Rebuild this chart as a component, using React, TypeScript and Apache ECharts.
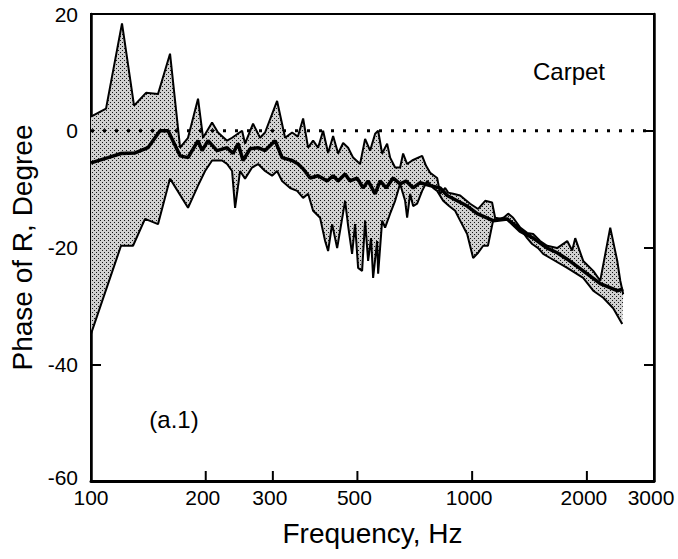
import React, { useEffect, useRef } from "react";
import * as echarts from "echarts";

// Frequency (Hz) tick labels on the log axis
const xTickValues = [100, 200, 300, 500, 1000, 2000, 3000];
const xInnerTicks = [200, 300, 500, 1000, 2000];
// Reference (dotted) line
const refFreq = [100, 3000];
const refPhase = [0, 0];

// First measured curve (upper envelope at low frequency)
const curveAFreq = [100, 109.5, 120.6, 129.7, 139.4, 149.9, 161.2, 171.3, 179.7, 190.9, 196.8, 207.8, 215.4, 227.5, 234.5, 249.1, 253.6, 266.2, 277.7, 286.2, 307.8, 323, 337, 349, 360.2, 371.2, 382.6, 394.3, 406.4, 418.9, 431.8, 445, 458.7, 472.7, 487.2, 508.2, 523.8, 539.9, 556.5, 566.7, 580.6, 598.3, 609.3, 627.9, 647.1, 659, 675.2, 695.9, 721.6, 739.3, 757, 776, 809.5, 824.3, 849.6, 865, 891.6, 930.2, 988, 1037, 1082, 1128, 1149, 1199, 1243, 1281, 1337, 1394, 1446, 1508, 1573, 1671, 1776, 1830, 1864, 1956, 2078, 2168, 2303, 2403, 2447, 2491];
const curveAPhase = [2.4, 3.8, 18.4, 4.3, 6.5, 6.3, 13.2, -2.9, -1.2, 5.5, -1.2, 1.4, -0.3, -1.7, -1.2, 0, -2.2, 1.2, -1.2, -0.3, 5.1, -1.2, -0.3, -1.0, 2.1, -2.9, -1.7, -2.9, 0, -3.8, -0.9, -3.9, -2.1, -2.9, -4.6, -5.7, -1.4, -3.4, -0.5, 0, -3.9, -2.2, -4.6, -6.3, -6.3, -3.9, -5.7, -5.1, -4.6, -4.3, -6.0, -7.2, -8.1, -10.8, -9.8, -10.6, -10.8, -11.1, -12.5, -13.4, -12.0, -12.3, -14.9, -15.1, -14.2, -14.9, -16.6, -17.5, -17.7, -18.9, -19.7, -20.1, -18.9, -20.5, -18.4, -22.3, -24.0, -25.7, -16.6, -22.3, -25.7, -28.0];

// Second measured curve (lower envelope at low frequency)
const curveBFreq = [100, 119.9, 128.9, 138.6, 149.9, 161.2, 179.7, 190.9, 199.2, 207.8, 220.7, 227.5, 234.5, 238.8, 246.1, 253.6, 264.6, 274.4, 286.2, 298.6, 307.8, 317.2, 333, 347.4, 360.2, 371.2, 382.6, 399.1, 411.4, 418.9, 429.2, 442.4, 464.2, 472.7, 484.2, 493, 502.1, 514.4, 523.8, 533.4, 543, 549.8, 563.3, 566.7, 580.6, 591, 609.3, 627.9, 647.1, 667, 675.2, 687.6, 700.1, 717.2, 739.3, 762, 790, 809.5, 839.4, 870, 902.5, 930.2, 970.3, 1006, 1037, 1069, 1100, 1135, 1206, 1258, 1313, 1353, 1394, 1437, 1490, 1536, 1602, 1776, 1956, 2078, 2208, 2345, 2476];
const curveBPhase = [-34.8, -19.7, -19.7, -15.1, -16.0, -8.2, -13.2, -9.4, -6.9, -5.1, -5.1, -5.7, -6.9, -13.2, -6.9, -8.2, -6.3, -5.7, -6.9, -7.7, -6.9, -8.6, -9.8, -10.3, -11.5, -10.8, -13.7, -14.9, -18.9, -20.6, -16.0, -20.1, -12.0, -16.3, -21.1, -16.0, -23.5, -24.0, -15.4, -22.3, -18.4, -25.2, -18.9, -24.5, -15.4, -16.6, -14.2, -12.0, -9.1, -12.0, -14.9, -10.8, -12.9, -12.5, -10.3, -8.6, -9.8, -10.3, -12.0, -12.9, -13.7, -15.4, -17.7, -21.8, -20.9, -19.7, -19.7, -15.4, -14.9, -15.4, -16.3, -17.2, -18.4, -19.4, -20.1, -21.1, -21.8, -23.5, -25.2, -27.4, -28.6, -30.4, -33.1];

// Mean curve (thick line)
const meanFreq = [100, 110.8, 119.9, 130.5, 141.1, 151.7, 159.3, 171.3, 179.7, 190.9, 195.6, 202.8, 214.1, 227.5, 235.9, 243.1, 250.6, 261.4, 274.4, 286.2, 304.1, 317.2, 337, 349.4, 360.2, 375.7, 394.3, 416.4, 431.8, 445, 464.2, 478, 499.1, 517.5, 533.4, 556.5, 573.5, 595, 620.4, 647.1, 671, 700.1, 730.4, 776, 824.3, 860, 913.4, 970.3, 1031, 1135, 1236, 1337, 1446, 1573, 1671, 1776, 1956, 2168, 2403, 2491];
const meanPhase = [-5.5, -4.6, -3.9, -3.8, -2.9, 0, 0, -4.3, -4.6, -1.7, -3.4, -1.7, -3.4, -2.9, -3.9, -2.2, -5.1, -3.1, -2.9, -3.4, -1.7, -4.6, -5.1, -5.7, -6.5, -8.1, -7.7, -8.6, -7.7, -8.6, -7.4, -8.6, -8.1, -9.8, -8.6, -10.8, -8.6, -9.8, -8.1, -9.1, -8.6, -9.8, -8.9, -9.4, -9.8, -11.1, -12.0, -12.9, -14.2, -15.4, -15.1, -17.2, -18.4, -20.1, -20.9, -22.0, -24.0, -26.2, -27.4, -27.1];

const FONT = '"Liberation Sans", Arial, Helvetica, sans-serif';

const zip = (xs: number[], ys: number[]) => xs.map((x, i) => [x, ys[i]]);

export default function App() {
  const ref = useRef<HTMLDivElement>(null);

  useEffect(() => {
    const el = ref.current!;
    const chart = echarts.init(el, null, { renderer: "svg" });

    const pat = document.createElement("canvas");
    pat.width = 4;
    pat.height = 4;
    const ctx = pat.getContext("2d")!;
    ctx.fillStyle = "#d0d0d0";
    ctx.fillRect(0, 0, 4, 4);
    ctx.fillStyle = "#151515";
    ctx.fillRect(0, 0, 1, 1);
    ctx.fillRect(2, 2, 1, 1);
    const stipple: any = { image: pat, repeat: "repeat", imageWidth: 4, imageHeight: 4 };

    chart.setOption({
      animation: false,
      backgroundColor: "#fff",
      grid: {
        left: 91,
        top: 14,
        width: 563,
        height: 467,
        show: true,
        borderColor: "#000",
        borderWidth: 2,
        backgroundColor: "transparent",
      },
      xAxis: {
        type: "log",
        logBase: 10,
        min: 100,
        max: 3000,
        axisLine: { show: true, onZero: false, lineStyle: { color: "#000", width: 3 } },
        axisTick: { show: false },
        minorTick: { show: false },
        axisLabel: { show: false },
        splitLine: { show: false },
        name: "Frequency, Hz",
        nameLocation: "middle",
        nameGap: 38,
        nameTextStyle: { fontFamily: FONT, fontSize: 28, color: "#000" },
      },
      yAxis: [
        {
          type: "value",
          min: -60,
          max: 20,
          interval: 20,
          position: "left",
          axisLine: { show: true, lineStyle: { color: "#000", width: 2.5 } },
          axisTick: { show: true, inside: true, length: 10, lineStyle: { color: "#000", width: 2 } },
          axisLabel: {
            fontFamily: FONT,
            fontSize: 21,
            color: "#000",
            margin: 13,
            formatter: (v: number) => (v === -60 ? "{lo|-60}" : String(v)),
            rich: { lo: { fontFamily: FONT, fontSize: 21, color: "#000", padding: [0, 0, 8, 0] } },
          },
          splitLine: { show: false },
          name: "Phase of R, Degree",
          nameLocation: "middle",
          nameGap: 53,
          nameTextStyle: { fontFamily: FONT, fontSize: 28, color: "#000" },
        },
        {
          type: "value",
          min: -60,
          max: 20,
          interval: 20,
          position: "right",
          axisLine: { show: true, lineStyle: { color: "#000", width: 2.5 } },
          axisTick: { show: true, inside: true, length: 10, lineStyle: { color: "#000", width: 2 } },
          axisLabel: { show: false },
          splitLine: { show: false },
        },
      ],
      series: [
        {
          type: "custom",
          name: "band",
          coordinateSystem: "cartesian2d",
          silent: true,
          z: 1,
          data: [[curveAFreq[0], curveAPhase[0]]],
          renderItem: (_params: any, api: any) => {
            const pts: number[][] = [];
            for (let i = 0; i < curveAFreq.length; i++) pts.push(api.coord([curveAFreq[i], curveAPhase[i]]));
            for (let i = curveBFreq.length - 1; i >= 0; i--) pts.push(api.coord([curveBFreq[i], curveBPhase[i]]));
            return {
              type: "polygon",
              shape: { points: pts },
              style: { fill: stipple, stroke: "none" },
            };
          },
        },
        {
          type: "line",
          name: "zero",
          data: zip(refFreq, refPhase),
          showSymbol: false,
          silent: true,
          z: 2,
          lineStyle: { color: "#000", width: 3, type: [3, 9] },
        },
        {
          type: "line",
          name: "A",
          data: zip(curveAFreq, curveAPhase),
          showSymbol: false,
          silent: true,
          z: 3,
          lineStyle: { color: "#000", width: 2 },
        },
        {
          type: "line",
          name: "B",
          data: zip(curveBFreq, curveBPhase),
          showSymbol: false,
          silent: true,
          z: 3,
          lineStyle: { color: "#000", width: 2 },
        },
        {
          type: "line",
          name: "mean",
          data: zip(meanFreq, meanPhase),
          showSymbol: false,
          silent: true,
          z: 4,
          lineStyle: { color: "#000", width: 3.5 },
        },
      ],
    });

    const graphics: any[] = [];
    const pxBottom = chart.convertToPixel({ xAxisIndex: 0, yAxisIndex: 0 }, [100, -60]) as number[];
    xInnerTicks.forEach((f) => {
      const p = chart.convertToPixel({ xAxisIndex: 0, yAxisIndex: 0 }, [f, -60]) as number[];
      graphics.push({
        type: "line",
        shape: { x1: p[0], y1: p[1], x2: p[0], y2: p[1] - 10 },
        style: { stroke: "#000", lineWidth: 2 },
        silent: true,
        z: 10,
      });
    });
    xTickValues.forEach((f) => {
      const p = chart.convertToPixel({ xAxisIndex: 0, yAxisIndex: 0 }, [f, -60]) as number[];
      graphics.push({
        type: "text",
        x: f === 100 ? p[0] : p[0] - 3,
        y: pxBottom[1] + 16,
        style: {
          text: String(f),
          fontFamily: FONT,
          fontSize: 21,
          fill: "#000",
          align: "center",
          verticalAlign: "middle",
        },
        silent: true,
      });
    });
    graphics.push({
      type: "text",
      x: 569,
      y: 71,
      style: { text: "Carpet", fontFamily: FONT, fontSize: 24, fill: "#000", align: "center", verticalAlign: "middle" },
      silent: true,
    });
    graphics.push({
      type: "text",
      x: 174,
      y: 419,
      style: { text: "(a.1)", fontFamily: FONT, fontSize: 24, fill: "#000", align: "center", verticalAlign: "middle" },
      silent: true,
    });
    chart.setOption({ graphic: graphics });

    return () => chart.dispose();
  }, []);

  return (
    <div
      ref={ref}
      style={{ position: "absolute", left: 0, top: 0, width: 678, height: 559, background: "#fff" }}
    />
  );
}
